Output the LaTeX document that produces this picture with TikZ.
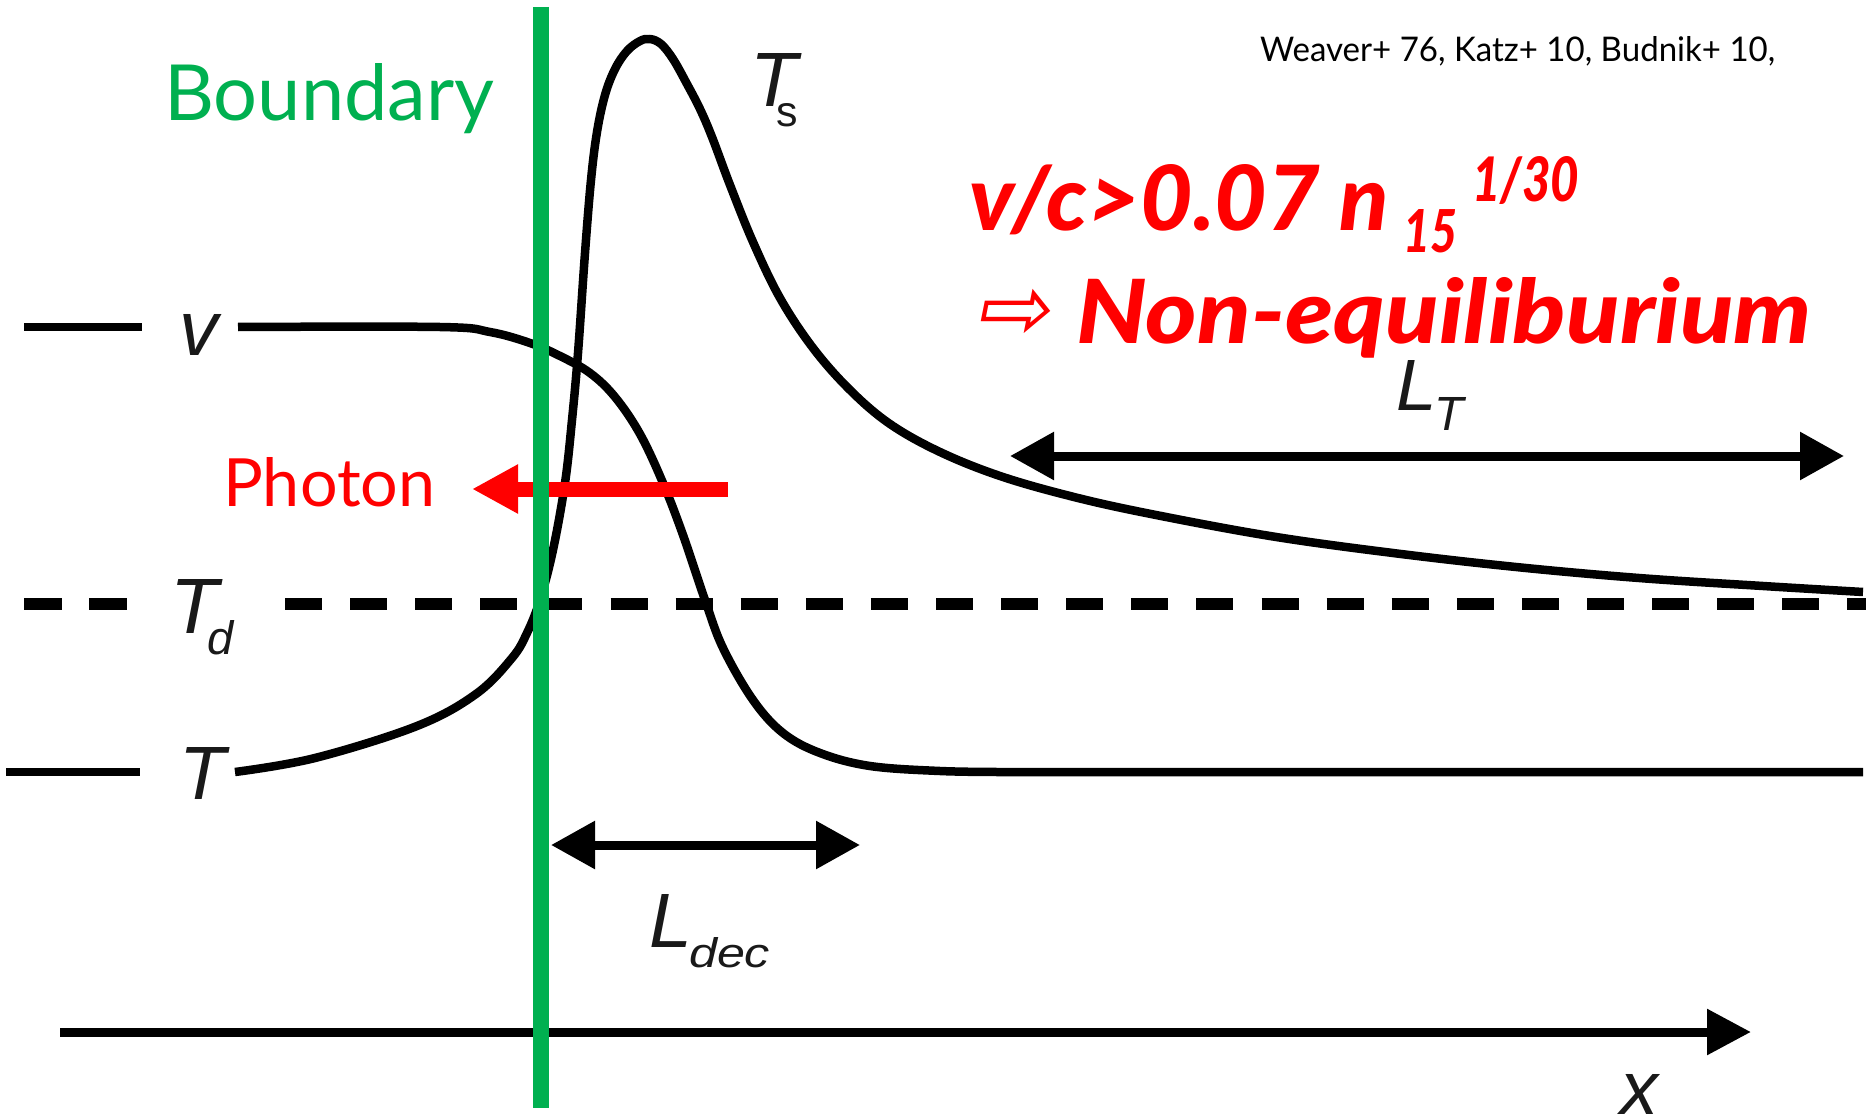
\documentclass[tikz,border=0pt]{standalone}
\usepackage{fontspec}
\setmainfont{Lato}
\newfontface\redfont{Lato Black Italic}
\newfontfamily\helv{Liberation Sans}
\newfontfamily\arrowfont[FakeSlant=0.2]{DejaVu Sans}
\usetikzlibrary{arrows.meta}
\definecolor{bgreen}{RGB}{0,176,80}
\definecolor{bred}{RGB}{255,0,0}
\begin{document}
\begin{tikzpicture}[x=1pt,y=-1pt,
  curve/.style={line width=8.5pt, black, line join=round},
  lbl/.style={inner sep=0pt, anchor=base west, text=black!90, font=\helv\itshape},
  rtxt/.style={inner sep=0pt, anchor=base west, text=bred, font=\redfont},
  dimarrow/.style={line width=9pt, {Triangle[length=44pt,width=46pt]}-{Triangle[length=44pt,width=46pt]}},
]
\fill[white] (0,0) rectangle (1866,1118);
\useasboundingbox (0,0) rectangle (1866,1118);

% reference points
\coordinate (vL1) at (24,327);  \coordinate (vL2) at (142,327);
\coordinate (TL1) at (6,772);   \coordinate (TL2) at (140,772);
\coordinate (dA1) at (24,604);  \coordinate (dA2) at (127,604);
\coordinate (dB1) at (285,604); \coordinate (dB2) at (1866,604);
\coordinate (xa1) at (60,1032); \coordinate (xa2) at (1751,1032);
\coordinate (ld1) at (551,845); \coordinate (ld2) at (860,845);
\coordinate (lt1) at (1010,456); \coordinate (lt2) at (1844,456);
\coordinate (ph1) at (728,489); \coordinate (ph2) at (472,489);
\coordinate (gb1) at (541,7);   \coordinate (gb2) at (541,1108);

% short left segments
\draw[curve] (vL1) -- (vL2);
\draw[curve] (TL1) -- (TL2);

% v curve
\draw[curve] plot[smooth, tension=0.6] coordinates {(238,327) (440,327) (490,332) (530,343) (560,356) (590,373) (615,397) (640,434) (663,483) (683,535) (705,600) (723,648) (753,700) (783,733) (820,753) (870,766) (940,771) (1000,772)} -- (1863,772);

% T curve
\draw[curve] plot[smooth, tension=0.6] coordinates {(235,772) (315,758) (417,726) (476,694) (512,658) (527,633) (540,600) (553,550) (565,483) (572,420) (578,353) (585,253) (591,180) (597,132) (605,95) (615,69) (627,51) (640,41) (650,39) (661,44) (673,59) (687,84) (700,109) (712,137) (730,185) (753,242) (780,298) (813,348) (850,390) (890,424) (940,452) (1000,476) (1070,496) (1146,513) (1270,536) (1393,553) (1516,567) (1639,578) (1763,586) (1863,592)};

% T_d dashed line
\draw[line width=12pt, dash pattern=on 38pt off 27pt] (dA1) -- (dA2);
\draw[line width=12pt, dash pattern=on 37pt off 28.1pt] (dB1) -- (dB2);

% axes and dimension arrows
\draw[line width=9pt, -{Triangle[length=44pt,width=44pt]}] (xa1) -- (xa2);
\draw[dimarrow] (ld1) -- (ld2);
\draw[dimarrow] (lt1) -- (lt2);

% photon arrow
\draw[bred, line width=15pt, -{Triangle[length=46pt,width=46pt]}] (ph1) -- (ph2);

% boundary
\draw[bgreen, line width=16pt] (gb1) -- (gb2);

% texts
\node[inner sep=0pt, anchor=base west, text=bgreen] (boundary) at (164,121) {\resizebox{330pt}{57pt}{Boundary}};
\node[inner sep=0pt, anchor=base west, text=bred] (photon) at (223,506) {\resizebox{212pt}{49pt}{Photon}};
\node[inner sep=0pt, anchor=base west, text=black] (refs) at (1260,62) {\resizebox{515pt}{25pt}{Weaver+ 76, Katz+ 10, Budnik+ 10,}};

\node[rtxt] (cond) at (969,230) {\resizebox{419pt}{66pt}{v/c>0.07 n}};
\node[rtxt] (sub) at (1403,252) {\resizebox{54pt}{43pt}{15}};
\node[rtxt] (sup) at (1472,202) {\resizebox{107pt}{45pt}{1/30}};
\node[inner sep=0pt, anchor=center, text=bred] (warr) at (1012,314) {\resizebox{75pt}{!}{\arrowfont ⇨}};
\node[rtxt] (noneq) at (1076,343) {\resizebox{735pt}{66pt}{Non-equiliburium}};

% plot labels
\node[lbl] (vlab) at (179,355) {\resizebox{!}{41pt}{v}};
\node[lbl] (Tlab) at (179,799) {\resizebox{!}{52pt}{T}};
\node[lbl] (Tdlab) at (170,633) {\resizebox{!}{54pt}{T}\hspace{-11pt}\raisebox{-21pt}{\resizebox{!}{34pt}{d}}};
\node[lbl] (Tslab) at (750,107) {\resizebox{!}{53pt}{T}\hspace{-21pt}\raisebox{-20pt}{\resizebox{!}{23pt}{\upshape s}}};
\node[lbl] (Ldlab) at (649,947) {\resizebox{!}{53pt}{L}\hspace{-3pt}\raisebox{-20pt}{\resizebox{81pt}{30pt}{dec}}};
\node[lbl] (LTlab) at (1396,410) {\resizebox{!}{50pt}{L}\hspace{-2pt}\raisebox{-20pt}{\resizebox{!}{33pt}{T}}};
\node[lbl] (xlab) at (1620,1114) {\resizebox{!}{40pt}{x}};
\end{tikzpicture}
\end{document}
